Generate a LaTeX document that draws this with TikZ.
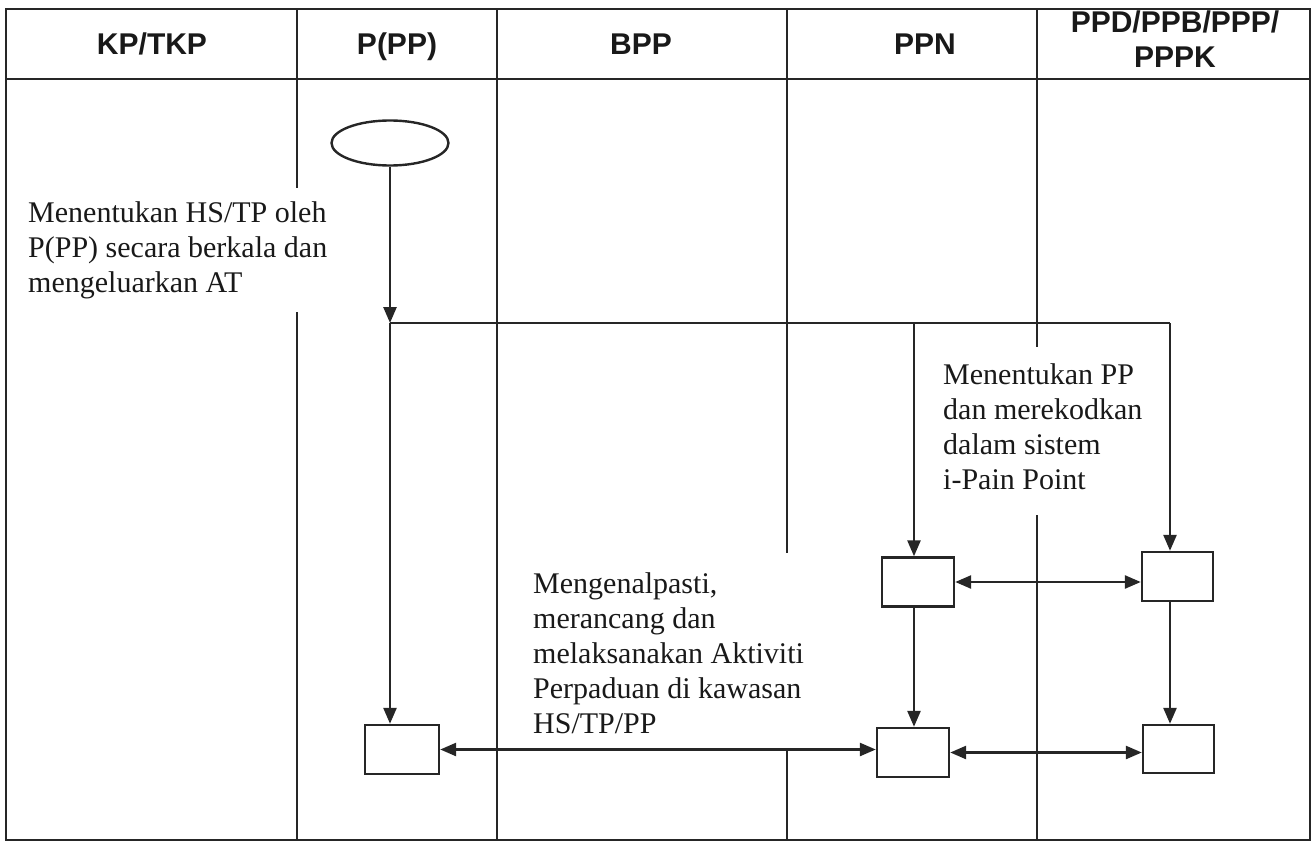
\documentclass[tikz,border=0pt]{standalone}
\usepackage{fontspec}
\setmainfont{Liberation Serif}
\newfontfamily\hdrfont{Liberation Sans}
\usetikzlibrary{shapes.geometric,arrows.meta}
\tikzset{
  lane/.style={line width=1.8pt, draw=black!85},
  frame/.style={line width=2.2pt, draw=black!85},
  hdr/.style={font=\hdrfont\bfseries\fontsize{30}{34}\selectfont, align=center, inner sep=0pt, anchor=base, text=black!90},
  body/.style={font=\fontsize{30}{35}\selectfont, align=left, inner sep=0pt, anchor=base west, text=black!90},
  pbox/.style={draw=black!85, line width=2.4pt, rectangle, inner sep=0pt},
  tip/.style={},
  arr/.style={line width=2.6pt, draw=black!85, -{Triangle[length=16pt,width=13pt]}},
  darr/.style={line width=2.6pt, draw=black!85, {Triangle[length=16pt,width=13pt]}-{Triangle[length=16pt,width=13pt]}},
  conn/.style={line width=2.6pt, draw=black!85}
}
\begin{document}
\begin{tikzpicture}[x=1pt,y=-1pt]
\useasboundingbox (0,0) rectangle (1312,843);
% frame
\draw[frame] (6,9) rectangle (1310,840);
\draw[frame] (6,79) -- (1310,79);
% lane lines
\draw[lane] (297,9) -- (297,188);
\draw[lane] (297,312) -- (297,840);
\draw[lane] (497,9) -- (497,840);
\draw[lane] (787,9) -- (787,553);
\draw[lane] (787,748) -- (787,840);
\draw[lane] (1037,9) -- (1037,347);
\draw[lane] (1037,515) -- (1037,840);
% headers
\node[hdr] (h1) at (152,55) {KP/TKP};
\node[hdr] (h2) at (397,55) {P(PP)};
\node[hdr] (h3) at (641,55) {BPP};
\node[hdr] (h4) at (925,55) {PPN};
\node[hdr] (h5a) at (1175,33) {PPD/PPB/PPP/};
\node[hdr] (h5b) at (1175,67) {PPPK};
% texts (anchor = baseline of last line)
\node[body] (t1) at (28,292) {Menentukan HS/TP oleh\\P(PP) secara berkala dan\\mengeluarkan AT};
\node[body] (t2) at (943,489) {Menentukan PP\\dan merekodkan\\dalam sistem\\i-Pain Point};
\node[body] (t3) at (533,733) {Mengenalpasti,\\merancang dan\\melaksanakan Aktiviti\\Perpaduan di kawasan\\HS/TP/PP};
% shapes
\node[ellipse, draw=black!85, line width=2.4pt, minimum width=117pt, minimum height=45pt, inner sep=0pt] (start) at (390,143) {};
\node[pbox, minimum width=74pt, minimum height=49pt] (b1) at (402,749.5) {};
\node[pbox, minimum width=72pt, minimum height=49pt] (b2) at (918,582) {};
\node[pbox, minimum width=71pt, minimum height=49pt] (b3) at (1177.5,576.5) {};
\node[pbox, minimum width=72pt, minimum height=49pt] (b4) at (913,752.5) {};
\node[pbox, minimum width=71pt, minimum height=48pt] (b5) at (1178.5,749) {};
% junctions
\coordinate (j1) at (390,323);
\coordinate (j2) at (914,323);
\coordinate (j3) at (1170,323);
% connectors
\draw[arr] (start.south) -- (j1);
\draw[conn] (j1) -- (j3);
\draw[arr] (j1) -- (j1 |- b1.north);
\draw[arr] (j2) -- (j2 |- b2.north);
\draw[arr] (j3) -- (j3 |- b3.north);
\draw[darr] (b2.east) -- (b2.east -| b3.west);
\draw[arr] (b2.south -| j2) -- (b4.north -| j2);
\draw[arr] (b3.south -| j3) -- (b5.north -| j3);
\draw[darr] (b1.east) -- (b1.east -| b4.west);
\draw[darr] (b4.east) -- (b4.east -| b5.west);
\end{tikzpicture}
\end{document}
